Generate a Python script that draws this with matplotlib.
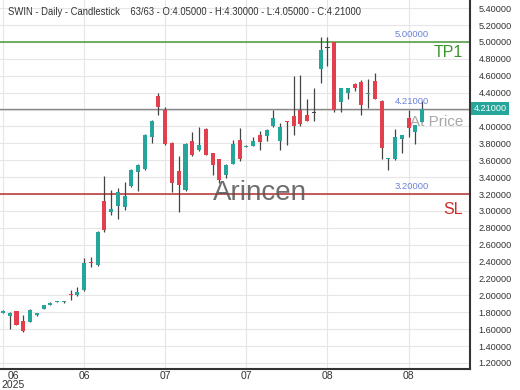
import numpy as np
import matplotlib
matplotlib.use("Agg")
import matplotlib.pyplot as plt

plt.rcParams["font.family"] = ["Liberation Sans", "DejaVu Sans"]

# daily OHLC, 63 bars
opens = [1.79, 1.75, 1.81, 1.70, 1.69, 1.77, 1.84, 1.88, 1.92, 1.92,
         2.02, 2.00, 2.06, 2.40, 2.36, 3.12, 2.99, 3.06, 3.05, 3.29,
         3.46, 3.50, 3.88, 4.36, 4.19, 3.80, 3.47, 3.25, 3.83, 3.72,
         3.97, 3.68, 3.61, 3.43, 3.56, 3.84, 3.76, 3.77, 3.90, 3.89,
         4.00, 3.83, 4.07, 4.12, 4.20, 4.14, 4.155, 4.68, 4.93, 5.00,
         4.29, 4.39, 4.50, 4.53, 4.38, 4.54, 4.30, 3.61, 3.61, 3.85,
         4.10, 3.94, 4.05]
highs = [1.83, 1.80, 1.82, 1.77, 1.84, 1.79, 1.89, 1.92, 1.93, 1.93,
         2.06, 2.10, 2.44, 2.46, 2.76, 3.41, 3.25, 3.27, 3.34, 3.50,
         3.55, 3.91, 4.08, 4.39, 4.23, 3.81, 3.65, 3.80, 3.94, 3.99,
         3.98, 3.69, 3.62, 3.55, 3.84, 3.98, 3.78, 3.88, 3.95, 3.97,
         4.19, 4.04, 4.07, 4.60, 4.61, 4.32, 4.45, 5.06, 5.06, 5.00,
         4.46, 4.46, 4.51, 4.55, 4.56, 4.63, 4.31, 3.63, 3.97, 3.90,
         4.20, 4.02, 4.30]
lows = [1.79, 1.60, 1.65, 1.57, 1.68, 1.76, 1.84, 1.88, 1.92, 1.91,
        1.95, 1.99, 2.05, 2.33, 2.35, 2.75, 2.95, 2.90, 3.01, 3.28,
        3.23, 3.48, 3.80, 4.13, 3.78, 3.22, 2.99, 3.24, 3.65, 3.71,
        3.66, 3.43, 3.33, 3.39, 3.55, 3.59, 3.76, 3.77, 3.72, 3.83,
        3.99, 3.72, 3.78, 3.90, 4.00, 4.06, 4.06, 4.52, 4.71, 4.17,
        4.17, 4.33, 4.42, 4.13, 4.22, 4.32, 3.61, 3.48, 3.60, 3.69,
        3.87, 3.79, 4.05]
closes = [1.82, 1.79, 1.65, 1.58, 1.83, 1.79, 1.88, 1.91, 1.925, 1.925,
          2.00, 2.04, 2.38, 2.38, 2.75, 2.77, 3.02, 3.22, 3.18, 3.48,
          3.54, 3.90, 4.06, 4.23, 3.79, 3.33, 3.31, 3.79, 3.66, 3.78,
          3.66, 3.54, 3.37, 3.54, 3.79, 3.61, 3.77, 3.83, 3.82, 3.96,
          4.10, 3.99, 4.05, 4.00, 4.03, 4.07, 4.155, 4.91, 4.93, 4.19,
          4.46, 4.46, 4.45, 4.25, 4.39, 4.33, 3.74, 3.63, 3.88, 3.90,
          3.98, 4.02, 4.21]

tick_pos = [12, 24, 36, 48, 60]
tick_labels = ["06", "07", "07", "08", "08"]
take_profit = 5.0
stop_loss = 3.2
last_price = 4.21

c = {
    "up": "#26a69a",
    "down": "#e2404f",
    "wick": "#444444",
    "grid": "#e6e6e6",
    "axis": "#333333",
    "tp": "#4a9a3a",
    "sl": "#b83030",
    "blue": "#6b82d6",
}

fig = plt.figure(figsize=(5.2, 3.9), dpi=100, facecolor="white")
ax = fig.add_axes([0.0, 21 / 390, 470 / 520, 369 / 390])

x = np.arange(len(opens))
o = np.array(opens)
cl = np.array(closes)
colors = [c["up"] if b > a else (c["down"] if b < a else "#444444") for a, b in zip(o, cl)]

ax.vlines(x, lows, highs, color=c["wick"], lw=0.9, zorder=3)
body_lo = np.minimum(o, cl)
body_h = np.maximum(np.abs(cl - o), 0.014)
ax.bar(x, body_h, bottom=body_lo, width=0.6, color=colors, zorder=4)

ax.set_xlim(-0.44, 69.08)
ax.set_ylim(1.128, 5.497)

yt = np.round(np.arange(1.2, 5.41, 0.2), 2)
ax.set_yticks(yt)
# the 4.20 label sits under the current price box
ax.set_yticklabels(["" if abs(v - 4.2) < 1e-6 else f"{v:.5f}" for v in yt])
ax.yaxis.tick_right()
ax.set_xticks([0] + tick_pos)
ax.set_xticklabels([""] + tick_labels)
ax.tick_params(axis="y", length=0, pad=6, labelsize=6.6, labelcolor="#333333")
ax.tick_params(axis="x", length=0, pad=1.5, labelsize=7.5, labelcolor="#333333")
ax.grid(True, color=c["grid"], lw=0.8, zorder=0)

for s in ["top", "left"]:
    ax.spines[s].set_visible(False)
for s in ["right", "bottom"]:
    ax.spines[s].set_color(c["axis"])
    ax.spines[s].set_linewidth(1.5)

# first date label sits a bit inside
ax.text(1.5, -0.006, "06\n2025", transform=ax.get_xaxis_transform(),
        ha="center", va="top", fontsize=7.5, color="#333333", linespacing=0.85)

# levels
ax.axhline(take_profit, color=c["tp"], lw=1.1, zorder=2)
ax.axhline(last_price, color="#888888", lw=1.0, zorder=2)
ax.axhline(stop_loss, color=c["sl"], lw=1.1, zorder=2)
for lvl in [take_profit, last_price, stop_loss]:
    ax.annotate(f"{lvl:.5f}", xy=(60.5, lvl), xytext=(0, 2), textcoords="offset points",
                ha="center", va="bottom", fontsize=6.8, color=c["blue"], zorder=5)

ax.text(463 / 470, 4.87, "TP1", transform=ax.get_yaxis_transform(), ha="right", va="center",
        fontsize=11.5, color="#3a962a")
ax.text(463 / 470, 3.02, "SL", transform=ax.get_yaxis_transform(), ha="right", va="center",
        fontsize=11.5, color="#d02a2a")
ax.text(463 / 470, 4.05, "At Price", transform=ax.get_yaxis_transform(), ha="right", va="center",
        fontsize=11, color="#a8a8a8", zorder=3.5)
ax.text(38.0, 3.21, "Arincen", ha="center", va="center", fontsize=20, color="#555555",
        alpha=0.85, zorder=6)

# current price box
ax.text(1.008, last_price, f"{last_price:.5f}", transform=ax.get_yaxis_transform(),
        ha="left", va="center", fontsize=6.6, color="white", clip_on=False, zorder=10,
        bbox=dict(boxstyle="square,pad=0.25", fc=c["up"], ec="none"))

fig.text(8 / 520, 1 - 12 / 390,
         "SWIN - Daily - Candlestick    63/63 - O:4.05000 - H:4.30000 - L:4.05000 - C:4.21000",
         ha="left", va="center", fontsize=6.85, color="#333333")

fig.savefig("out.png", dpi=100)
